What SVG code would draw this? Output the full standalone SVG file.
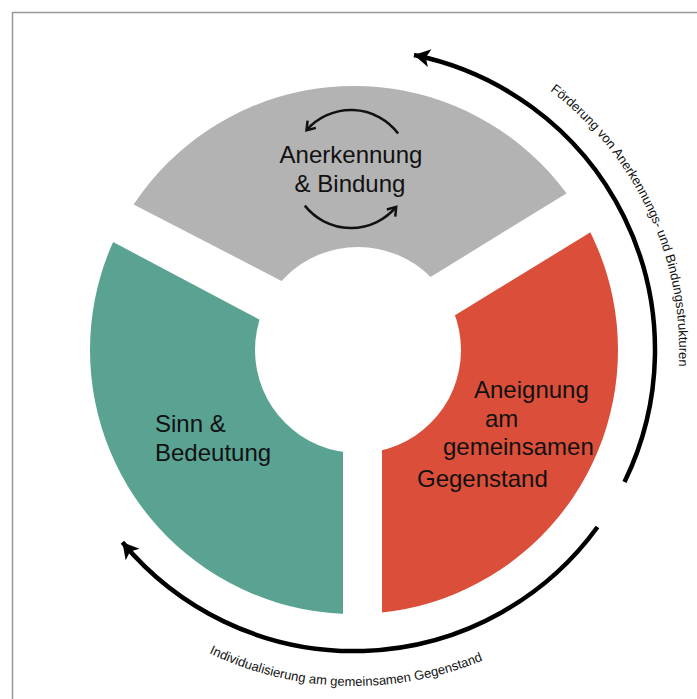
<svg xmlns="http://www.w3.org/2000/svg" width="697" height="699" viewBox="0 0 697 699">
<style>
  .lbl { font-family: "Liberation Sans", Arial, sans-serif; font-size: 24px; fill: #111; }
  .arc-lbl { font-family: "Liberation Sans", Arial, sans-serif; font-size: 13px; fill: #111; }
  .big { fill: none; stroke: #000; stroke-width: 4.5; }
  .small { fill: none; stroke: #111; stroke-width: 2.5; }
</style>
<defs>
  <clipPath id="ring">
    <path clip-rule="evenodd" d="M90,350 a264,264 0 1,0 528,0 a264,264 0 1,0 -528,0 Z M255,350 a103,103 0 1,0 206,0 a103,103 0 1,0 -206,0 Z"/>
  </clipPath>
  <marker id="bigHead" markerUnits="userSpaceOnUse" markerWidth="20" markerHeight="20" refX="18" refY="10" orient="auto" viewBox="0 0 20 20">
    <path d="M18,10 L2,1 L6,10 L2,19 Z" fill="#000"/>
  </marker>
  <marker id="smallHead" markerUnits="userSpaceOnUse" markerWidth="14" markerHeight="14" refX="11" refY="7" orient="auto" viewBox="0 0 14 14">
    <path d="M3,1.5 L11,7 L3,12.5" fill="none" stroke="#111" stroke-width="2.5" stroke-linejoin="miter"/>
  </marker>
  <path id="tpTop" d="M410.4,29.9 A325,325 0 0 1 635.5,512.5"/>
  <path id="tpBottom" d="M58.7,510.3 A336,336 0 0 0 640.5,525.5"/>
</defs>

<rect width="697" height="699" fill="#fff"/>
<path d="M12.5,699 V12.5 H697" fill="none" stroke="#999" stroke-width="1.5"/>

<g id="node-anerkennung">
  <polygon points="359,321 0,135.3 0,0 697,0 697,113.1" fill="#b3b3b3" clip-path="url(#ring)"/>
  <text class="lbl" x="351" y="163" text-anchor="middle">Anerkennung</text>
  <text class="lbl" x="350" y="192" text-anchor="middle">&amp; Bindung</text>
  <path class="small" d="M398.1,133.5 A59,59 0 0 0 306.5,130.3" marker-end="url(#smallHead)"/>
  <path class="small" d="M304.8,205.6 A59,59 0 0 0 396.2,206.9" marker-end="url(#smallHead)"/>
</g>

<g id="node-sinn">
  <polygon points="0,182 343,364 343,699 0,699" fill="#5aa393" clip-path="url(#ring)"/>
  <text class="lbl" x="155" y="432">Sinn &amp;</text>
  <text class="lbl" x="155" y="461">Bedeutung</text>
</g>

<g id="node-aneignung">
  <polygon points="382,360 697,167 697,699 382,699" fill="#db4f3a" clip-path="url(#ring)"/>
  <text class="lbl" x="474" y="398">Aneignung</text>
  <text class="lbl" x="485" y="427">am</text>
  <text class="lbl" x="443" y="455">gemeinsamen</text>
  <text class="lbl" x="417" y="487">Gegenstand</text>
</g>

<g id="connectors">
  <path class="big" d="M624.5,482 A301,301 0 0 0 414,55" marker-end="url(#bigHead)"/>
  <path class="big" d="M597.5,527 A301,301 0 0 1 122.4,542.3" marker-end="url(#bigHead)"/>
  <text class="arc-lbl"><textPath href="#tpTop" startOffset="50%" text-anchor="middle">Förderung von Anerkennungs- und Bindungsstrukturen</textPath></text>
  <text class="arc-lbl"><textPath href="#tpBottom" startOffset="50%" text-anchor="middle">Individualisierung am gemeinsamen Gegenstand</textPath></text>
</g>
</svg>
